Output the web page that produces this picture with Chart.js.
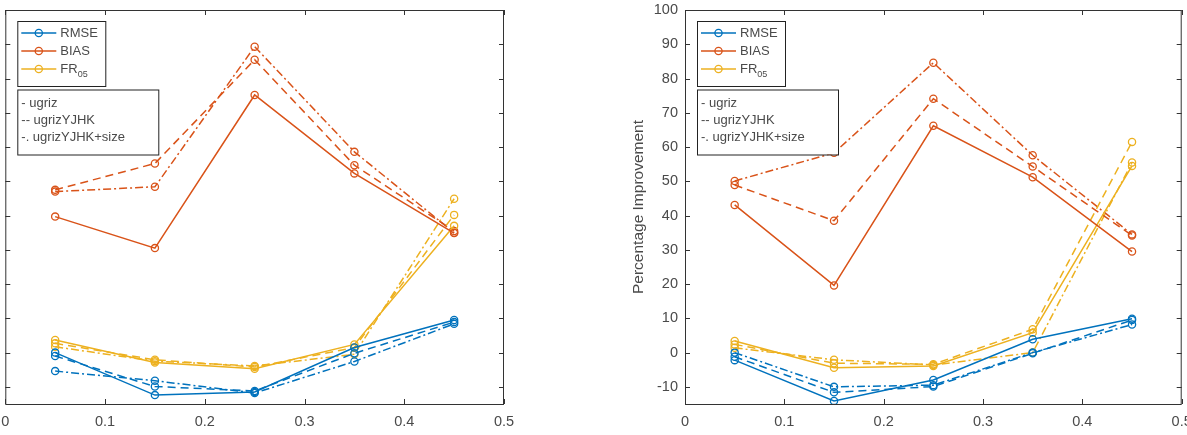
<!DOCTYPE html>
<html>
<head>
<meta charset="utf-8">
<script src="https://cdn.jsdelivr.net/npm/chart.js@4.4.0/dist/chart.umd.min.js"></script>
<style>
  html, body { margin: 0; padding: 0; background: #fff; }
  #wrap { position: relative; width: 1187px; height: 435px; overflow: hidden; }
  canvas { position: absolute; top: 0; }
</style>
</head>
<body>
<div id="wrap">
  <canvas id="chartLeft" style="left:0px"></canvas>
  <canvas id="chartRight" style="left:600px"></canvas>
</div>
<script>
// photometric redshift bins (x positions)
const xValues = [0.05, 0.15, 0.25, 0.35, 0.45];
const xTicks = [0, 0.1, 0.2, 0.3, 0.4, 0.5];
const yTicks = [-10, 0, 10, 20, 30, 40, 50, 60, 70, 80, 90, 100];

const metricNames = ['RMSE', 'BIAS', 'FR05'];
const featureNames = ['- ugriz', '-- ugrizYJHK', '-. ugrizYJHK+size'];

// left panel
const leftRmseUgriz = [0, -12.4, -11.5, 1.5, 9.5];
const leftRmseYjhk = [-1, -9.9, -11.2, -0.2, 8.9];
const leftRmseSize = [-5.4, -8.2, -11.8, -2.6, 8.4];
const leftBiasUgriz = [39.7, 30.5, 75.2, 52.3, 34.9];
const leftBiasYjhk = [47.5, 55.2, 85.5, 54.7, 35.5];
const leftBiasSize = [47.0, 48.4, 89.3, 58.6, 35.0];
const leftFrUgriz = [3.7, -2.9, -4.7, 2.4, 37.0];
const leftFrYjhk = [2.7, -2.1, -4.2, 1.5, 40.2];
const leftFrSize = [1.7, -2.5, -3.9, -0.5, 44.9];

// right panel
const rightRmseUgriz = [-2.2, -14.1, -8.0, 3.9, 9.9];
const rightRmseYjhk = [-1.2, -11.6, -9.9, -0.2, 9.5];
const rightRmseSize = [0, -10.0, -9.5, 0, 8.2];
const rightBiasUgriz = [43.1, 19.6, 66.2, 51.2, 29.5];
const rightBiasYjhk = [48.9, 38.5, 74.1, 54.3, 34.2];
const rightBiasSize = [50.1, 58.3, 84.6, 57.6, 34.5];
const rightFrUgriz = [3.4, -4.4, -3.9, 5.8, 54.5];
const rightFrYjhk = [2.4, -3.1, -3.4, 6.8, 61.5];
const rightFrSize = [1.4, -2.1, -3.6, 0, 55.5];

const blue = '#0072BD';
const orange = '#D95319';
const yellow = '#EDB120';
const metricColors = [blue, orange, yellow];
const dashes = [[], [8, 5], [8, 3, 2, 3]];
const axisColor = '#333333';
const textColor = '#4a4a4a';
const fontFam = '"Liberation Sans", Arial, sans-serif';

function makeSet(values, color, dash) {
  return {
    data: values.map((v, i) => ({ x: xValues[i], y: v })),
    borderColor: color,
    borderWidth: 1.5,
    borderDash: dash,
    pointStyle: 'circle',
    pointRadius: 3.6,
    pointBorderWidth: 1.3,
    pointBorderColor: color,
    pointBackgroundColor: 'rgba(0,0,0,0)',
    tension: 0,
    fill: false
  };
}

// frame, inward ticks, legends and y title
const matlabAxes = {
  id: 'matlabAxes',
  afterDraw(chart) {
    const ctx = chart.ctx;
    const ca = chart.chartArea;
    const xs = chart.scales.x, ys = chart.scales.y;
    ctx.save();
    ctx.strokeStyle = axisColor;
    ctx.lineWidth = 1;
    ctx.strokeRect(ca.left + 0.5, ca.top + 0.5, ca.right - ca.left - 1, ca.bottom - ca.top);
    ctx.beginPath();
    xTicks.forEach(t => {
      const px = Math.round(xs.getPixelForValue(t)) + 0.5;
      ctx.moveTo(px, ca.bottom); ctx.lineTo(px, ca.bottom - 5);
      ctx.moveTo(px, ca.top); ctx.lineTo(px, ca.top + 5);
    });
    yTicks.forEach(t => {
      const py = Math.round(ys.getPixelForValue(t)) + 0.5;
      ctx.moveTo(ca.left, py); ctx.lineTo(ca.left + 5, py);
      ctx.moveTo(ca.right, py); ctx.lineTo(ca.right - 5, py);
    });
    ctx.stroke();

    // legend 1: metrics
    const lx = ca.left + 12, ly1 = ca.top + 11;
    ctx.fillStyle = '#fff';
    ctx.fillRect(lx, ly1, 88, 65);
    ctx.strokeStyle = '#222';
    ctx.strokeRect(lx + 0.5, ly1 + 0.5, 88, 65);
    ctx.font = '13px ' + fontFam;
    ctx.textBaseline = 'middle';
    metricNames.forEach((name, i) => {
      const ry = ly1 + 12 + i * 18;
      ctx.strokeStyle = metricColors[i];
      ctx.lineWidth = 1.5;
      ctx.beginPath(); ctx.moveTo(lx + 4, ry); ctx.lineTo(lx + 39, ry); ctx.stroke();
      ctx.lineWidth = 1.3;
      ctx.beginPath(); ctx.arc(lx + 21.5, ry, 3.6, 0, Math.PI * 2); ctx.stroke();
      ctx.fillStyle = textColor;
      if (name === 'FR05') {
        ctx.fillText('FR', lx + 43, ry);
        const w = ctx.measureText('FR').width;
        ctx.font = '9px ' + fontFam;
        ctx.fillText('05', lx + 43 + w, ry + 6);
        ctx.font = '13px ' + fontFam;
      } else {
        ctx.fillText(name, lx + 43, ry);
      }
    });

    // legend 2: feature sets
    const ly2 = ca.top + 79.5;
    ctx.fillStyle = '#fff';
    ctx.fillRect(lx, ly2, 141, 65);
    ctx.strokeStyle = '#222';
    ctx.lineWidth = 1;
    ctx.strokeRect(lx + 0.5, ly2 + 0.5, 141, 65);
    ctx.fillStyle = textColor;
    featureNames.forEach((name, i) => {
      ctx.fillText(name, lx + 4, ly2 + 14 + i * 17);
    });

    if (chart.options.plugins.matlabAxes.yTitle) {
      ctx.save();
      ctx.translate(ca.left - 46, (ca.top + ca.bottom) / 2);
      ctx.rotate(-Math.PI / 2);
      ctx.textAlign = 'center';
      ctx.font = '15.5px ' + fontFam;
      ctx.fillStyle = textColor;
      ctx.fillText(chart.options.plugins.matlabAxes.yTitle, 0, 0);
      ctx.restore();
    }
    ctx.restore();
  }
};

function buildChart(canvasId, width, leftWidth, rightPad, sets, showY, yTitle) {
  const canvas = document.getElementById(canvasId);
  canvas.width = width;
  canvas.height = 435;
  canvas.style.width = width + 'px';
  canvas.style.height = '435px';
  const datasets = sets.map(s => makeSet(s.values, metricColors[s.metric], dashes[s.feature]));
  return new Chart(canvas, {
    type: 'line',
    data: { datasets: datasets },
    options: {
      responsive: false,
      animation: false,
      events: [],
      layout: { padding: { left: 0, right: rightPad, top: 10, bottom: 0 } },
      plugins: {
        legend: { display: false },
        tooltip: { enabled: false },
        matlabAxes: { yTitle: yTitle }
      },
      scales: {
        x: {
          type: 'linear',
          min: 0,
          max: 0.5,
          grid: { display: false, drawTicks: false },
          border: { display: false },
          afterBuildTicks: (scale) => { scale.ticks = xTicks.map(v => ({ value: v })); },
          afterFit: (scale) => { scale.height = 31; scale.paddingLeft = 0; scale.paddingRight = 0; },
          ticks: {
            padding: 9,
            maxRotation: 0,
            autoSkip: false,
            color: textColor,
            font: { family: fontFam, size: 14.5 },
            callback: (v) => (v === 0 ? '0' : v.toFixed(1))
          }
        },
        y: {
          type: 'linear',
          min: -15,
          max: 100,
          grid: { display: false, drawTicks: false },
          border: { display: false },
          afterBuildTicks: (scale) => { scale.ticks = yTicks.map(v => ({ value: v })); },
          afterFit: (scale) => { scale.width = leftWidth; scale.paddingTop = 0; scale.paddingBottom = 0; },
          ticks: {
            display: showY,
            padding: 7,
            color: textColor,
            font: { family: fontFam, size: 14.5 },
            callback: (v) => String(v)
          }
        }
      }
    },
    plugins: [matlabAxes]
  });
}

const leftSets = [
  { metric: 0, feature: 0, values: leftRmseUgriz },
  { metric: 1, feature: 0, values: leftBiasUgriz },
  { metric: 2, feature: 0, values: leftFrUgriz },
  { metric: 0, feature: 1, values: leftRmseYjhk },
  { metric: 1, feature: 1, values: leftBiasYjhk },
  { metric: 2, feature: 1, values: leftFrYjhk },
  { metric: 0, feature: 2, values: leftRmseSize },
  { metric: 1, feature: 2, values: leftBiasSize },
  { metric: 2, feature: 2, values: leftFrSize }
];
const rightSets = [
  { metric: 0, feature: 0, values: rightRmseUgriz },
  { metric: 1, feature: 0, values: rightBiasUgriz },
  { metric: 2, feature: 0, values: rightFrUgriz },
  { metric: 0, feature: 1, values: rightRmseYjhk },
  { metric: 1, feature: 1, values: rightBiasYjhk },
  { metric: 2, feature: 1, values: rightFrYjhk },
  { metric: 0, feature: 2, values: rightRmseSize },
  { metric: 1, feature: 2, values: rightBiasSize },
  { metric: 2, feature: 2, values: rightFrSize }
];

buildChart('chartLeft', 600, 4, 96, leftSets, false, null);
buildChart('chartRight', 587, 85, 1.5, rightSets, true, 'Percentage Improvement');
</script>
</body>
</html>
